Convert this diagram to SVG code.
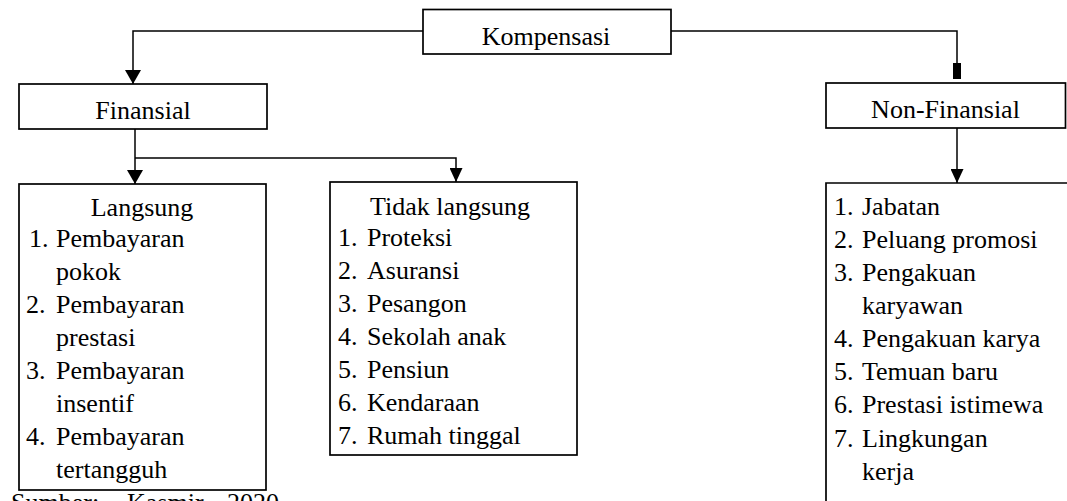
<svg xmlns="http://www.w3.org/2000/svg" width="1067" height="501" viewBox="0 0 1067 501">
<style>
.box{fill:#fff;stroke:#000;stroke-width:1.7}
.open{fill:none;stroke:#000;stroke-width:1.7}
.ln{fill:none;stroke:#000;stroke-width:1.5}
.c{text-anchor:middle}
</style>
<defs>
<marker id="arr" viewBox="0 -8 14 16" refX="14" refY="0" markerWidth="14" markerHeight="16" markerUnits="userSpaceOnUse" orient="auto"><path d="M0,-8 L14,0 L0,8 Z" fill="#000"/></marker>
<marker id="arrs" viewBox="0 -6.5 14 13" refX="14" refY="0" markerWidth="14" markerHeight="13" markerUnits="userSpaceOnUse" orient="auto"><path d="M0,-6.5 L14,0 L0,6.5 Z" fill="#000"/></marker>
</defs>
<g id="connectors">
<path class="ln" d="M423,31 H133 V84" marker-end="url(#arr)"/>
<path class="ln" d="M671,31 H957 V64"/>
<rect x="953" y="63" width="8" height="16" fill="#000"/>
<path class="ln" d="M135,129 V184" marker-end="url(#arr)"/>
<path class="ln" d="M135,158 H456 V182" marker-end="url(#arrs)"/>
<path class="ln" d="M957,128 V183" marker-end="url(#arrs)"/>
</g>
<g font-family="Liberation Serif, Tinos, Times New Roman, DejaVu Serif, serif" font-size="26" fill="#000">
<g id="kompensasi">
<rect class="box" x="423" y="9.5" width="248" height="44.5"/>
<text class="c" x="546" y="45">Kompensasi</text>
</g>
<g id="finansial">
<rect class="box" x="19" y="84" width="248" height="45"/>
<text class="c" x="143" y="119">Finansial</text>
</g>
<g id="non-finansial">
<rect class="box" x="826" y="83" width="239.5" height="45"/>
<text class="c" x="945.5" y="118">Non-Finansial</text>
</g>
<g id="langsung">
<rect class="box" x="19" y="184" width="247" height="306"/>
<text class="c" x="142" y="216">Langsung</text>
<text x="29" y="247">1.</text><text x="56" y="247">Pembayaran</text>
<text x="56" y="280">pokok</text>
<text x="26" y="313">2.</text><text x="56" y="313">Pembayaran</text>
<text x="56" y="346">prestasi</text>
<text x="26" y="379">3.</text><text x="56" y="379">Pembayaran</text>
<text x="56" y="412">insentif</text>
<text x="26" y="445">4.</text><text x="56" y="445">Pembayaran</text>
<text x="56" y="478">tertangguh</text>
</g>
<g id="tidak-langsung">
<rect class="box" x="330" y="182" width="247" height="273"/>
<text class="c" x="450" y="215">Tidak langsung</text>
<text x="338" y="246">1.</text><text x="367" y="246">Proteksi</text>
<text x="338" y="279">2.</text><text x="367" y="279">Asuransi</text>
<text x="338" y="312">3.</text><text x="367" y="312">Pesangon</text>
<text x="338" y="345">4.</text><text x="367" y="345">Sekolah anak</text>
<text x="338" y="378">5.</text><text x="367" y="378">Pensiun</text>
<text x="338" y="411">6.</text><text x="367" y="411">Kendaraan</text>
<text x="338" y="444">7.</text><text x="367" y="444">Rumah tinggal</text>
</g>
<g id="non-finansial-list">
<path class="open" d="M1070,183 H826 V505"/>
<text x="834" y="215">1.</text><text x="862" y="215">Jabatan</text>
<text x="834" y="248">2.</text><text x="862" y="248">Peluang promosi</text>
<text x="834" y="281">3.</text><text x="862" y="281">Pengakuan</text>
<text x="862" y="314">karyawan</text>
<text x="834" y="347">4.</text><text x="862" y="347">Pengakuan karya</text>
<text x="834" y="380">5.</text><text x="862" y="380">Temuan baru</text>
<text x="834" y="413">6.</text><text x="862" y="413">Prestasi istimewa</text>
<text x="834" y="447">7.</text><text x="862" y="447">Lingkungan</text>
<text x="862" y="480">kerja</text>
</g>
<text x="11" y="511">Sumber: <tspan x="127">Kasmir,</tspan> <tspan x="227">2020</tspan></text>
</g>
</svg>
